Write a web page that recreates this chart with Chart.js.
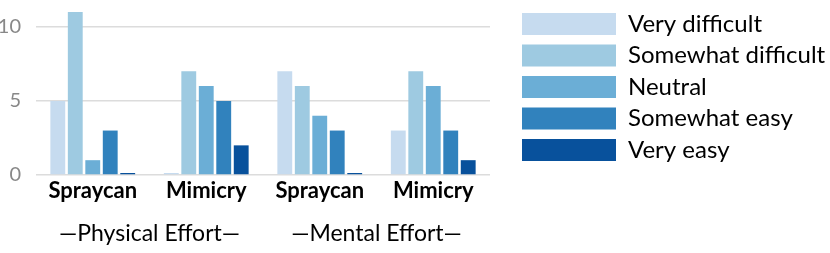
<!DOCTYPE html>
<html><head><meta charset="utf-8">
<script src="https://cdn.jsdelivr.net/npm/chart.js@4"></script>
<style>html,body{margin:0;padding:0;background:#fff}#wrap{width:830px;height:253px}</style>
</head><body><div id="wrap"><canvas id="c"></canvas></div>
<script>
const categories = ['Spraycan','Mimicry','Spraycan','Mimicry'];
const groupLabels = ['\u2014Physical Effort\u2014','\u2014Mental Effort\u2014'];
const seriesNames = ['Very difficult','Somewhat difficult','Neutral','Somewhat easy','Very easy'];
const veryDifficult = [5, 0, 7, 3];
const somewhatDifficult = [11, 7, 6, 7];
const neutral = [1, 6, 4, 6];
const somewhatEasy = [3, 5, 3, 3];
const veryEasy = [0, 2, 0, 1];
const yTicks = [0, 5, 10];
const colors = ['#c6dbef','#9ecae1','#6baed6','#3182bd','#08519c'];
const seriesValues = [veryDifficult, somewhatDifficult, neutral, somewhatEasy, veryEasy];
const FONT = 'Lato';

const legendShift = {
  id: 'legendShift',
  afterLayout(chart) {
    const lg = chart.legend;
    lg.left += 24.5; lg.right += 24.5; lg.top += 2.5; lg.bottom += 2.5;
  }
};

function build() {
  const chart = new Chart(document.getElementById('c'), {
    type: 'bar',
    data: {
      labels: categories,
      datasets: seriesValues.map((d,i)=>({
        label: seriesNames[i], data: d, backgroundColor: colors[i],
        borderWidth: 0, minBarLength: 2,
        barPercentage: 0.85, categoryPercentage: 0.77
      }))
    },
    plugins: [legendShift],
    options: {
      responsive: true, maintainAspectRatio: false, animation: false,
      layout: { padding: { top: 2, right: 0, left: 0, bottom: 0 } },
      plugins: {
        tooltip: { enabled: false },
        legend: {
          position: 'right', align: 'start', maxWidth: 400,
          labels: { boxWidth: 94, boxHeight: 22, padding: 7.5, color: '#000',
            font: { family: FONT, size: 24 } }
        }
      },
      scales: {
        x: {
          grid: { display: false, drawTicks: false }, border: { display: false },
          ticks: { color: '#000', padding: 2.4, font: { family: FONT, size: 22, weight: 'bold' } },
          afterFit: s => { s.height = 30; }
        },
        x2: {
          type: 'category', labels: groupLabels, position: 'bottom',
          grid: { display: false, drawTicks: false }, border: { display: false },
          ticks: { color: '#000', padding: 15.2, font: { family: FONT, size: 23 } },
          afterFit: s => { s.height = 48; }
        },
        y: {
          min: 0, max: 11,
          afterBuildTicks: s => { s.ticks = yTicks.map(v=>({value:v})); },
          afterFit: s => { s.width = 36; s.paddingTop = 12; s.paddingBottom = 12; },
          grid: { color: '#dcdcdc', lineWidth: 1.5, drawTicks: false },
          border: { display: false },
          ticks: { color: '#888', padding: 15, font: { family: FONT, size: 20 } }
        }
      }
    }
  });
  const lg = chart.legend;
  const origFit = lg.fit.bind(lg);
  lg.fit = function() { origFit(); this.width = 340; };
  chart.update();
}
Promise.all([
  document.fonts.load('20px "Lato"'),
  document.fonts.load('bold 22px "Lato"'),
  document.fonts.load('24px "Lato"')
]).then(build, build);
</script></body></html>
